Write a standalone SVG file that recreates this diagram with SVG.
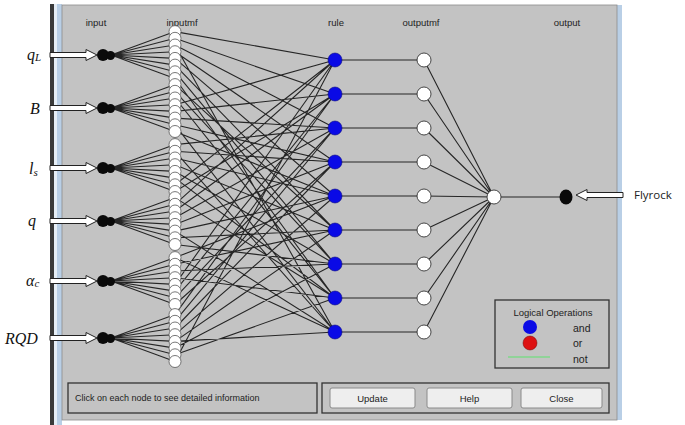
<svg xmlns="http://www.w3.org/2000/svg" xmlns:xlink="http://www.w3.org/1999/xlink" width="685" height="425" viewBox="0 0 685 425">
<style>
.hdr{font-family:"Liberation Sans",Arial,sans-serif;font-size:9.5px;fill:#222}
.lbl{font-family:"Liberation Serif","Times New Roman",serif;font-style:italic;font-size:16px;fill:#111}
.sub{font-size:11px}
.ui{font-family:"Liberation Sans",Arial,sans-serif;font-size:9.5px;fill:#222}
.lg{font-size:10.5px}
.conn{stroke:#262626;stroke-width:1.1;fill:none}
.mf{fill:#fff;stroke:#555;stroke-width:0.8}
.rule{fill:#0a0ae6;stroke:#0a0a80;stroke-width:0.6}
.omf{fill:#fff;stroke:#333;stroke-width:0.9}
.blk{fill:#0a0a0a}
.arrow{fill:#fff;stroke:#222;stroke-width:1}
.btn{fill:#eeeeee;stroke:#8a8a8a;stroke-width:1}
.box{fill:none;stroke:#333;stroke-width:1.3}
</style>
<defs>
<path id="ain" d="M50,-2.5 H86 V-5.5 L97,0 L86,5.5 V2.5 H50 Z"/>
<path id="aout" d="M623,-2.5 H587 V-5.5 L576,0 L587,5.5 V2.5 H623 Z"/>
</defs>
<rect x="0" y="0" width="685" height="425" fill="#fff"/>
<!-- window frame -->
<rect x="50" y="4" width="4" height="421" fill="#3a3a3a"/>
<rect x="54" y="4" width="3" height="421" fill="#e6eef6"/>
<rect x="57" y="4" width="5" height="421" fill="#b9cfe6"/>
<rect x="617" y="5" width="5" height="415" fill="#b9cfe6"/>
<rect x="62" y="5" width="555" height="415" fill="#c3c3c3" stroke="#8c8c8c" stroke-width="0.8"/>
<!-- headers -->
<text class="hdr" x="96" y="26" text-anchor="middle">input</text>
<text class="hdr" x="182" y="26" text-anchor="middle">inputmf</text>
<text class="hdr" x="336" y="26" text-anchor="middle">rule</text>
<text class="hdr" x="421" y="26" text-anchor="middle">outputmf</text>
<text class="hdr" x="567" y="26" text-anchor="middle">output</text>
<!-- connectors -->
<g id="connectors">
<path class="conn" d="M111,55 L175,31.6 M111,55 L175,38.3 M111,55 L175,45 M111,55 L175,51.7 M111,55 L175,58.4 M111,55 L175,65.1 M111,55 L175,71.8 M111,55 L175,78.5
M111,108 L175,84.6 M111,108 L175,91.3 M111,108 L175,98 M111,108 L175,104.7 M111,108 L175,111.4 M111,108 L175,118.1 M111,108 L175,124.8 M111,108 L175,131.5
M111,168 L175,144.6 M111,168 L175,151.3 M111,168 L175,158 M111,168 L175,164.7 M111,168 L175,171.4 M111,168 L175,178.1 M111,168 L175,184.8 M111,168 L175,191.5
M111,221 L175,197.6 M111,221 L175,204.3 M111,221 L175,211 M111,221 L175,217.7 M111,221 L175,224.4 M111,221 L175,231.1 M111,221 L175,237.8 M111,221 L175,244.5
M111,281 L175,257.6 M111,281 L175,264.3 M111,281 L175,271 M111,281 L175,277.7 M111,281 L175,284.4 M111,281 L175,291.1 M111,281 L175,297.8 M111,281 L175,304.5
M111,338 L175,314.6 M111,338 L175,321.3 M111,338 L175,328 M111,338 L175,334.7 M111,338 L175,341.4 M111,338 L175,348.1 M111,338 L175,354.8 M111,338 L175,361.5"/>
<path class="conn" d="M175,31.6 L335,60 M175,104.7 L335,60 M175,184.8 L335,60 M175,204.3 L335,60 M175,284.4 L335,60 M175,361.5 L335,60
M175,38.3 L335,94 M175,111.4 L335,94 M175,191.5 L335,94 M175,211 L335,94 M175,291.1 L335,94 M175,314.6 L335,94
M175,45 L335,128 M175,118.1 L335,128 M175,144.6 L335,128 M175,217.7 L335,128 M175,297.8 L335,128 M175,321.3 L335,128
M175,51.7 L335,162 M175,124.8 L335,162 M175,151.3 L335,162 M175,224.4 L335,162 M175,304.5 L335,162 M175,328 L335,162
M175,58.4 L335,196 M175,131.5 L335,196 M175,158 L335,196 M175,231.1 L335,196 M175,257.6 L335,196 M175,334.7 L335,196
M175,65.1 L335,230 M175,84.6 L335,230 M175,164.7 L335,230 M175,237.8 L335,230 M175,264.3 L335,230 M175,341.4 L335,230
M175,71.8 L335,264 M175,91.3 L335,264 M175,171.4 L335,264 M175,244.5 L335,264 M175,271 L335,264 M175,348.1 L335,264
M175,78.5 L335,298 M175,98 L335,298 M175,178.1 L335,298 M175,197.6 L335,298 M175,277.7 L335,298 M175,354.8 L335,298
M175,45 L335,332 M175,124.8 L335,332 M175,151.3 L335,332 M175,231.1 L335,332 M175,257.6 L335,332 M175,341.4 L335,332"/>
<path class="conn" d="M335,60 H424 M335,94 H424 M335,128 H424 M335,162 H424 M335,196 H424 M335,230 H424 M335,264 H424 M335,298 H424 M335,332 H424"/>
<path class="conn" d="M424,60 L494,197 M424,94 L494,197 M424,128 L494,197 M424,162 L494,197 M424,196 L494,197 M424,230 L494,197 M424,264 L494,197 M424,298 L494,197 M424,332 L494,197 M494,197 H566"/>
</g>
<!-- inputs -->
<g id="in1"><use href="#ain" y="55" class="arrow"/><circle class="blk" cx="103" cy="55" r="6"/><circle class="blk" cx="110.5" cy="55.5" r="4.5"/><text class="lbl" x="27" y="60">q<tspan class="sub" dy="1">L</tspan></text></g>
<g id="in2"><use href="#ain" y="108" class="arrow"/><circle class="blk" cx="103" cy="108" r="6"/><circle class="blk" cx="110.5" cy="108.5" r="4.5"/><text class="lbl" x="30" y="114">B</text></g>
<g id="in3"><use href="#ain" y="168" class="arrow"/><circle class="blk" cx="103" cy="168" r="6"/><circle class="blk" cx="110.5" cy="168.5" r="4.5"/><text class="lbl" x="29" y="174">l<tspan class="sub" dy="2">s</tspan></text></g>
<g id="in4"><use href="#ain" y="221" class="arrow"/><circle class="blk" cx="103" cy="221" r="6"/><circle class="blk" cx="110.5" cy="221.5" r="4.5"/><text class="lbl" x="28" y="226">q</text></g>
<g id="in5"><use href="#ain" y="281" class="arrow"/><circle class="blk" cx="103" cy="281" r="6"/><circle class="blk" cx="110.5" cy="281.5" r="4.5"/><text class="lbl" x="26" y="286">α<tspan class="sub" dy="1">c</tspan></text></g>
<g id="in6"><use href="#ain" y="338" class="arrow"/><circle class="blk" cx="103" cy="338" r="6"/><circle class="blk" cx="110.5" cy="338.5" r="4.5"/><text class="lbl" x="5" y="344">RQD</text></g>
<!-- input membership functions -->
<g id="inputmf">
<circle class="mf" cx="175" cy="31.6" r="6"/><circle class="mf" cx="175" cy="38.3" r="6"/><circle class="mf" cx="175" cy="45" r="6"/><circle class="mf" cx="175" cy="51.7" r="6"/><circle class="mf" cx="175" cy="58.4" r="6"/><circle class="mf" cx="175" cy="65.1" r="6"/><circle class="mf" cx="175" cy="71.8" r="6"/><circle class="mf" cx="175" cy="78.5" r="6"/>
<circle class="mf" cx="175" cy="84.6" r="6"/><circle class="mf" cx="175" cy="91.3" r="6"/><circle class="mf" cx="175" cy="98" r="6"/><circle class="mf" cx="175" cy="104.7" r="6"/><circle class="mf" cx="175" cy="111.4" r="6"/><circle class="mf" cx="175" cy="118.1" r="6"/><circle class="mf" cx="175" cy="124.8" r="6"/><circle class="mf" cx="175" cy="131.5" r="6"/>
<circle class="mf" cx="175" cy="144.6" r="6"/><circle class="mf" cx="175" cy="151.3" r="6"/><circle class="mf" cx="175" cy="158" r="6"/><circle class="mf" cx="175" cy="164.7" r="6"/><circle class="mf" cx="175" cy="171.4" r="6"/><circle class="mf" cx="175" cy="178.1" r="6"/><circle class="mf" cx="175" cy="184.8" r="6"/><circle class="mf" cx="175" cy="191.5" r="6"/>
<circle class="mf" cx="175" cy="197.6" r="6"/><circle class="mf" cx="175" cy="204.3" r="6"/><circle class="mf" cx="175" cy="211" r="6"/><circle class="mf" cx="175" cy="217.7" r="6"/><circle class="mf" cx="175" cy="224.4" r="6"/><circle class="mf" cx="175" cy="231.1" r="6"/><circle class="mf" cx="175" cy="237.8" r="6"/><circle class="mf" cx="175" cy="244.5" r="6"/>
<circle class="mf" cx="175" cy="257.6" r="6"/><circle class="mf" cx="175" cy="264.3" r="6"/><circle class="mf" cx="175" cy="271" r="6"/><circle class="mf" cx="175" cy="277.7" r="6"/><circle class="mf" cx="175" cy="284.4" r="6"/><circle class="mf" cx="175" cy="291.1" r="6"/><circle class="mf" cx="175" cy="297.8" r="6"/><circle class="mf" cx="175" cy="304.5" r="6"/>
<circle class="mf" cx="175" cy="314.6" r="6"/><circle class="mf" cx="175" cy="321.3" r="6"/><circle class="mf" cx="175" cy="328" r="6"/><circle class="mf" cx="175" cy="334.7" r="6"/><circle class="mf" cx="175" cy="341.4" r="6"/><circle class="mf" cx="175" cy="348.1" r="6"/><circle class="mf" cx="175" cy="354.8" r="6"/><circle class="mf" cx="175" cy="361.5" r="6"/>
</g>
<!-- rules -->
<g id="rules">
<circle class="rule" cx="335" cy="60" r="7"/><circle class="rule" cx="335" cy="94" r="7"/><circle class="rule" cx="335" cy="128" r="7"/><circle class="rule" cx="335" cy="162" r="7"/><circle class="rule" cx="335" cy="196" r="7"/><circle class="rule" cx="335" cy="230" r="7"/><circle class="rule" cx="335" cy="264" r="7"/><circle class="rule" cx="335" cy="298" r="7"/><circle class="rule" cx="335" cy="332" r="7"/>
</g>
<!-- output membership functions -->
<g id="outputmf">
<circle class="omf" cx="424" cy="60" r="7"/><circle class="omf" cx="424" cy="94" r="7"/><circle class="omf" cx="424" cy="128" r="7"/><circle class="omf" cx="424" cy="162" r="7"/><circle class="omf" cx="424" cy="196" r="7"/><circle class="omf" cx="424" cy="230" r="7"/><circle class="omf" cx="424" cy="264" r="7"/><circle class="omf" cx="424" cy="298" r="7"/><circle class="omf" cx="424" cy="332" r="7"/>
</g>
<g id="aggregate"><circle class="omf" cx="494" cy="197" r="7"/></g>
<g id="output"><ellipse class="blk" cx="566" cy="197" rx="6.5" ry="7.5"/><use href="#aout" y="195" class="arrow"/><text x="634" y="199" style="font-family:'Open Sans','Liberation Sans',sans-serif;font-size:11.5px;fill:#222">Flyrock</text></g>
<!-- legend -->
<g id="legend">
<rect class="box" x="495" y="300" width="114" height="68"/>
<text class="ui" x="553" y="316" text-anchor="middle">Logical Operations</text>
<circle cx="530" cy="327" r="7" fill="#0a0ae6"/>
<circle cx="530" cy="343" r="7" fill="#dd1111" stroke="#700" stroke-width="0.5"/>
<line x1="508" y1="357" x2="550" y2="357" stroke="#7fd88a" stroke-width="1.5"/>
<text class="ui lg" x="573" y="332">and</text>
<text class="ui lg" x="573" y="347">or</text>
<text class="ui lg" x="573" y="363">not</text>
</g>
<!-- status bar -->
<g id="status">
<rect class="box" x="68" y="383" width="249" height="30"/>
<text class="ui" x="75" y="401" style="font-size:9px">Click on each node to see detailed information</text>
</g>
<g id="buttons">
<rect class="box" x="322" y="383" width="287" height="30"/>
<rect class="btn" x="330" y="388" width="85" height="20" rx="2"/>
<text class="ui" x="372.5" y="401.5" text-anchor="middle">Update</text>
<rect class="btn" x="427" y="388" width="85" height="20" rx="2"/>
<text class="ui" x="469.5" y="401.5" text-anchor="middle">Help</text>
<rect class="btn" x="521" y="388" width="81" height="20" rx="2"/>
<text class="ui" x="561.5" y="401.5" text-anchor="middle">Close</text>
</g>
</svg>
